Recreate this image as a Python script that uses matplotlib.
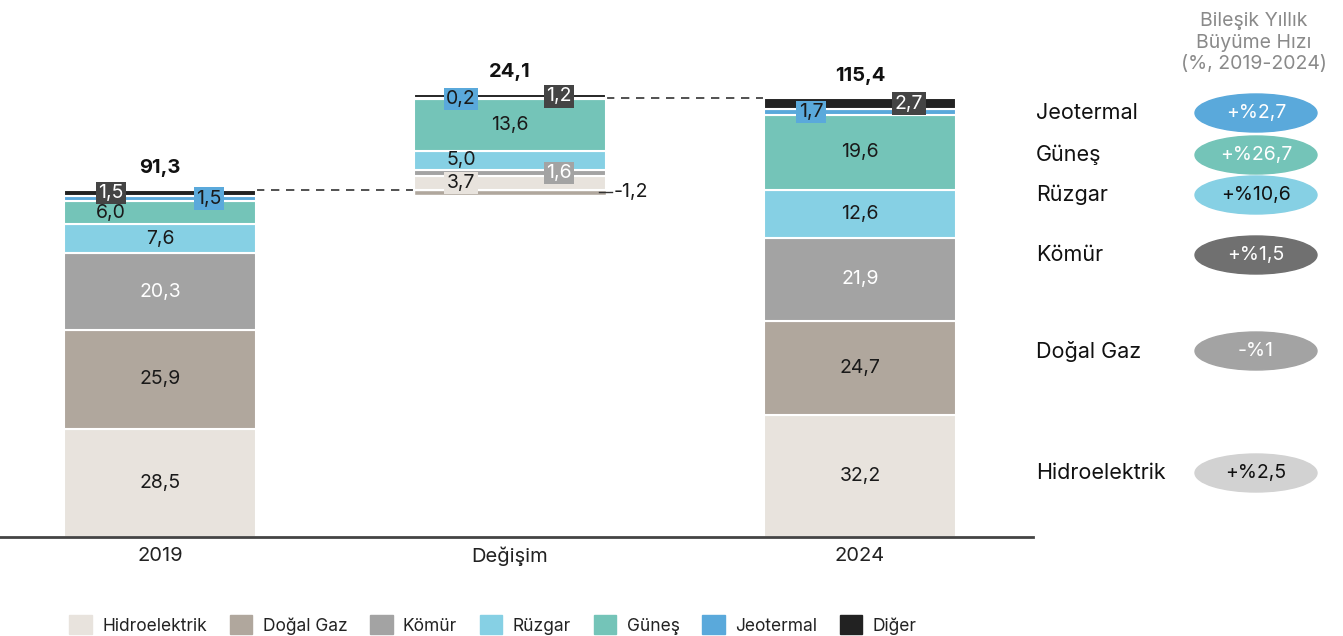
import matplotlib.pyplot as plt
from matplotlib.patches import Ellipse
import numpy as np

plt.rcParams['font.family'] = ['Inter', 'DejaVu Sans']

# data
sources = ['Hidroelektrik', 'Doğal Gaz', 'Kömür', 'Rüzgar', 'Güneş', 'Jeotermal', 'Diğer']
colors = ['#e8e3dd', '#b0a79d', '#a3a3a3', '#86d0e4', '#74c4b8', '#5aa9db', '#222222']
categories = ['2019', 'Değişim', '2024']
values_2019 = [28.5, 25.9, 20.3, 7.6, 6.0, 1.5, 1.5]
values_change = [3.7, -1.2, 1.6, 5.0, 13.6, 0.2, 1.2]
values_2024 = [32.2, 24.7, 21.9, 12.6, 19.6, 1.7, 2.7]
total_2019 = 91.3
total_change = 24.1
total_2024 = 115.4

cagr_sources = ['Jeotermal', 'Güneş', 'Rüzgar', 'Kömür', 'Doğal Gaz', 'Hidroelektrik']
cagr_labels = ['+%2,7', '+%26,7', '+%10,6', '+%1,5', '-%1', '+%2,5']
cagr_colors = ['#5aa9db', '#74c4b8', '#86d0e4', '#707070', '#a3a3a3', '#d2d2d2']
cagr_text = ['white', 'white', '#111111', 'white', 'white', '#111111']
cagr_y = [113, 155, 195, 255, 351, 473]   # pixel rows in the panel

def fmt(v):
    return ('%.1f' % v).replace('.', ',')

fig = plt.figure(figsize=(13.43, 6.36), dpi=100)
ax = fig.add_axes([0, 99/636, 1033/1343, 537/636])
ax.set_xlim(-160/350, (1033-160)/350)
ax.set_ylim(0, 537/3.8)

w = 0.55
txt_dark = '#1a1a1a'

def lab(x, y, s, fc=None, color=txt_dark):
    kw = {}
    if fc is not None:
        kw['bbox'] = dict(boxstyle='square,pad=0.12', fc=fc, ec='none')
    ax.text(x, y, s, ha='center', va='center', fontsize=14, color=color, zorder=5, **kw)

# 2019 and 2024 stacked bars
for xi, vals in [(0, values_2019), (2, values_2024)]:
    bottom = 0
    for i, v in enumerate(vals):
        ax.bar(xi, v, w, bottom=bottom, color=colors[i], edgecolor='white', linewidth=1.5, zorder=2)
        yc = bottom + v / 2
        s = fmt(v)
        if i == 6:
            lab(xi + (-0.14 if xi == 0 else 0.14), yc, s, fc='#444444', color='white')
        elif i == 5:
            lab(xi + (0.14 if xi == 0 else -0.14), yc, s, fc=colors[5])
        elif i == 4 and xi == 0:
            lab(xi - 0.14, yc, s)
        elif i == 2:
            lab(xi, yc, s, color='white')
        else:
            lab(xi, yc, s)
        bottom += v

# change bar (waterfall)
base = total_2019
for i, v in enumerate(values_change):
    if v < 0:
        ax.bar(1, v, w, bottom=total_2019, color=colors[i], edgecolor='white', linewidth=1.0, zorder=2)
        yc = total_2019 + v / 2
        ax.plot([1.255, 1.29], [yc, yc], color='#333333', lw=1, zorder=3)
        ax.text(1.297, yc, fmt(v), ha='left', va='center', fontsize=14, color=txt_dark)
        continue
    ax.bar(1, v, w, bottom=base, color=colors[i], edgecolor='white', linewidth=1.5, zorder=2)
    yc = base + v / 2
    s = fmt(v)
    if i == 0:
        lab(1 - 0.14, yc, s, fc=colors[0])
    elif i == 2:
        lab(1 + 0.14, yc, s, fc=colors[2], color='white')
    elif i == 3:
        lab(1 - 0.14, yc, s)
    elif i == 5:
        lab(1 - 0.14, yc, s, fc=colors[5])
    elif i == 6:
        lab(1 + 0.14, yc, s, fc='#444444', color='white')
    else:
        lab(1, yc, s)
    base += v

# totals
for xi, top, tot in [(0, total_2019, total_2019), (1, base, total_change), (2, total_2024, total_2024)]:
    ax.annotate(fmt(tot), (xi, top), xytext=(0, 16), textcoords='offset points',
                ha='center', va='center', fontsize=14.5, fontweight='bold', color='#111111')

# connectors
ax.plot([w/2, 1 - w/2], [total_2019, total_2019], ls=(0, (5, 4)), color='#333333', lw=1.2, zorder=1)
ax.plot([1 + w/2, 2 - w/2], [total_2024, total_2024], ls=(0, (5, 4)), color='#333333', lw=1.2, zorder=1)

ax.set_xticks([0, 1, 2])
ax.set_xticklabels(categories, fontsize=14.5, color='#222222')
ax.tick_params(axis='x', length=0, pad=7)
ax.set_yticks([])
for sp in ['top', 'right', 'left']:
    ax.spines[sp].set_visible(False)
ax.spines['bottom'].set_color('#444444')
ax.spines['bottom'].set_linewidth(2)

# legend
handles = [plt.Rectangle((0, 0), 1, 1, color=c) for c in colors]
fig.legend(handles, sources, loc='center', bbox_to_anchor=(493/1343, 1 - 625/636), ncol=7,
           frameon=False, fontsize=12.5, handlelength=1.3, handleheight=1.3,
           handletextpad=0.6, columnspacing=1.3, labelcolor='#222222')

# CAGR panel
ax2 = fig.add_axes([0, 0, 1, 1])
ax2.set_xlim(0, 1343)
ax2.set_ylim(636, 0)
ax2.axis('off')
ax2.text(1254, 43, 'Bileşik Yıllık\nBüyüme Hızı\n(%, 2019-2024)', ha='center', va='center',
         fontsize=14, color='#8a8a8a', linespacing=1.25)
for name, s, c, tc, y in zip(cagr_sources, cagr_labels, cagr_colors, cagr_text, cagr_y):
    ax2.text(1036, y, name, ha='left', va='center', fontsize=15.5, color='#111111')
    ax2.add_patch(Ellipse((1256, y), 122, 38, color=c))
    ax2.text(1256, y, s, ha='center', va='center', fontsize=14, color=tc)

fig.savefig('out.png', dpi=100)
